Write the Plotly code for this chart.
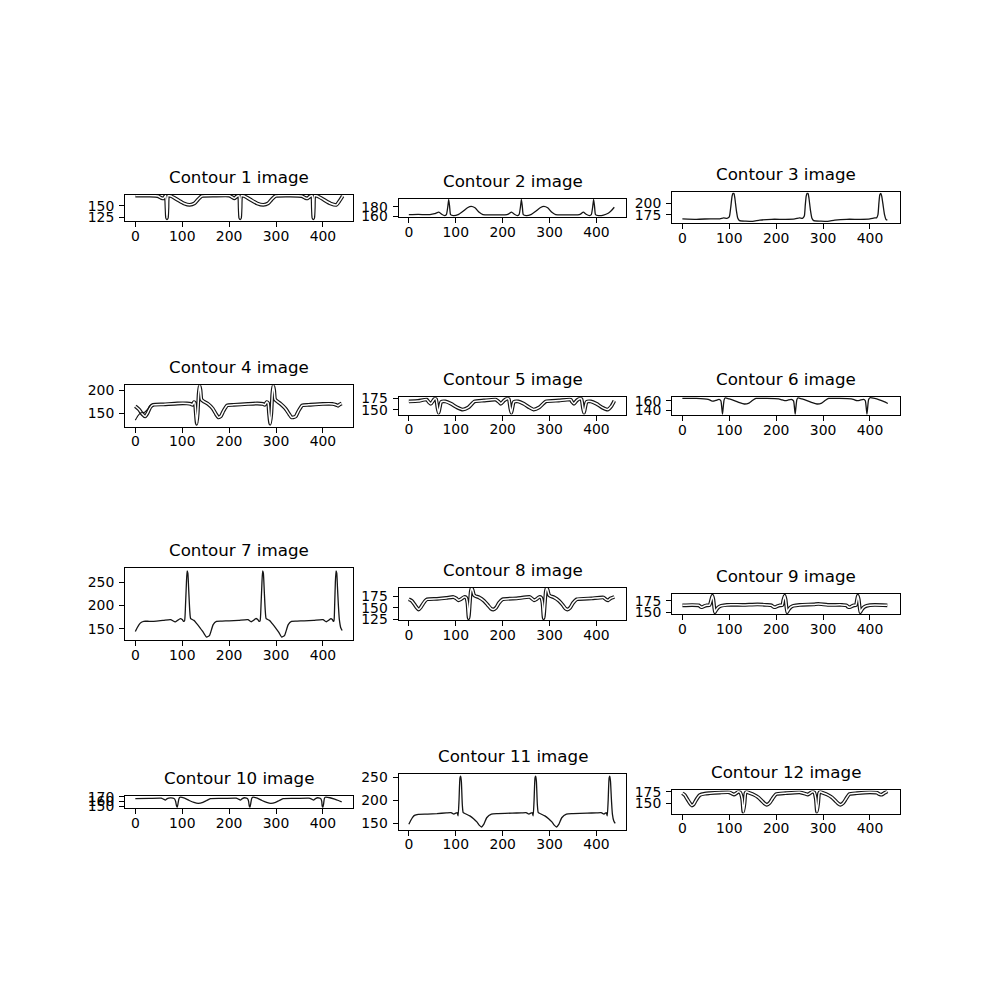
import plotly.graph_objects as go

# ---------------- data ----------------
titles = ["Contour 1 image", "Contour 2 image", "Contour 3 image",
          "Contour 4 image", "Contour 5 image", "Contour 6 image",
          "Contour 7 image", "Contour 8 image", "Contour 9 image",
          "Contour 10 image", "Contour 11 image", "Contour 12 image"]

p1_x = [0, 30, 48, 55, 60, 63, 65, 66.5, 67.5, 68.5, 70, 76, 90, 104, 116, 126, 134, 142, 170,
        200, 206, 211, 216, 221, 222.5, 223.5, 224.5, 226, 232, 246, 260, 273, 283, 291, 299, 330,
        355, 362, 367, 372, 377, 378.5, 379.5, 380.5, 382, 388, 402, 416, 429, 435, 442]
p1_y = [172, 172, 171, 167, 166, 170, 172, 145, 123, 145, 172, 171, 163, 155, 152, 155, 164, 171, 172,
        172, 169, 166, 170, 172, 145, 123, 145, 172, 171, 163, 155, 152, 155, 164, 171, 172,
        171, 167, 166, 170, 172, 145, 123, 145, 172, 171, 163, 155, 152, 160, 171]

p2_x = [0, 20, 45, 55, 64, 70, 76, 80, 83, 85, 87, 89, 95, 105, 115, 125, 133, 141, 150, 158, 180,
        205, 212, 219, 225, 231, 235, 238, 240, 242, 244, 250, 260, 270, 280, 288, 296, 305, 313, 335,
        360, 366, 372, 378, 385, 389, 392, 394, 396, 398, 404, 415, 425, 432, 438]
p2_y = [163, 163.5, 163, 165, 168.5, 164, 161, 163, 180, 196, 180, 163, 161, 163, 170, 178, 181, 178, 168, 163, 162.5,
        162.5, 164, 168.5, 164, 161, 163, 180, 196, 180, 163, 161, 163, 170, 178, 181, 178, 168, 163, 162.5,
        162.5, 164, 168.5, 164, 161, 163, 180, 196, 180, 163, 161, 162, 166, 172, 179]

p3_x = [0, 30, 60, 80, 88, 95, 100, 103, 106, 108, 110, 112, 115, 118, 122, 135, 150, 165, 190,
        220, 240, 250, 256, 260, 262, 264, 266, 268, 270, 273, 276, 280, 295, 310, 325, 350,
        380, 400, 410, 414, 417, 419, 421, 423, 425, 428, 431, 434, 437]
p3_y = [166, 165, 166, 166, 168, 167, 170, 190, 215, 221, 221, 210, 185, 168, 162, 161, 160.5, 163, 165,
        165, 166, 168, 167, 172, 195, 215, 221, 221, 210, 185, 168, 162, 161, 160.5, 163, 165,
        165, 166, 168, 168, 175, 200, 218, 221, 215, 195, 175, 165, 163]

p4_x = [0, 8, 15, 21, 26, 32, 38, 60, 90, 110, 118, 122, 125, 127, 129, 131, 133, 135, 137, 139, 141,
        145, 155, 165, 172, 177, 182, 188, 196, 210, 240, 260, 272, 276, 280, 283, 285, 287.5, 290,
        292, 294, 296, 298, 302, 310, 320, 328, 333, 337, 342, 348, 356, 370, 400, 420, 428, 432, 436, 440]
p4_y = [165, 158, 148, 143, 150, 163, 168, 169, 171, 171, 170, 168, 174, 172, 150, 127, 150, 190, 210, 200, 180,
        176, 170, 160, 148, 141, 143, 155, 167, 168, 170, 171, 170, 168, 174, 172, 150, 127, 150,
        190, 210, 200, 180, 176, 170, 160, 148, 141, 141, 143, 155, 167, 168, 170, 170, 168, 166, 169, 171]
p4_branch_x = [0, 6, 12, 20, 26, 32]
p4_branch_y = [135, 145, 151, 152, 158, 167]

p5_x = [0, 20, 38, 43, 47, 52, 55, 58, 61, 63.5, 66, 69, 78, 90, 103, 115, 127, 140, 160,
        185, 192, 196, 203, 209, 213, 216, 218.5, 221, 224, 233, 245, 257, 266, 278, 292, 320,
        345, 348, 352, 358, 364, 368, 371, 373.5, 376, 379, 388, 400, 412, 424, 432, 438]
p5_y = [168, 169, 172, 166, 163, 170, 174, 173, 155, 143, 155, 167, 168, 163, 155, 150.5, 155, 168, 170,
        172, 167, 163, 170, 174, 173, 155, 143, 155, 167, 168, 163, 155, 150.5, 155, 168, 170,
        172, 167, 163, 170, 174, 173, 155, 143, 155, 167, 168, 163, 155, 150.5, 158, 169]

p6_x = [0, 30, 55, 62, 67, 72, 78, 82, 84, 85.5, 87, 89, 91, 100, 112, 122, 132, 142, 150, 157, 180,
        205, 212, 218, 224, 232, 237, 239, 240.5, 242, 244, 246, 255, 267, 277, 287, 297, 305, 312, 335,
        360, 367, 372, 378, 386, 390, 392, 393.5, 395, 397, 400, 410, 420, 430, 438]
p6_y = [165, 165, 163, 160, 159.5, 161, 163, 160, 145, 131, 145, 162, 166, 164, 160, 156, 153, 155, 161, 165, 165,
        164, 162, 160.5, 161, 163, 160, 145, 131, 145, 162, 166, 164, 160, 156, 153, 155, 161, 165, 165,
        164, 162, 160.5, 161, 163, 160, 145, 131, 145, 162, 166.5, 165, 162, 158, 154]

p7_x = [0, 4, 8, 13, 18, 30, 45, 60, 75, 85, 90, 96, 100, 103, 105, 107, 109, 110.5, 112, 114, 116, 118,
        125, 131, 138, 145, 152, 158, 163, 166, 173, 185, 200, 220, 240, 247, 252, 257, 261, 264, 266,
        268, 270, 271.5, 273, 275, 277, 279, 286, 292, 299, 306, 312, 318, 323, 326, 333, 345, 360, 380,
        400, 407, 412, 417, 420, 422, 423.5, 425, 426.5, 428, 429.5, 431, 433, 435, 438, 441]
p7_y = [144, 152, 159, 164, 166, 166, 166.5, 168, 169.5, 164.7, 168, 172, 170, 166, 167, 200, 250, 275, 270, 230, 190, 172,
        168, 161, 152, 142, 132, 135, 150, 159, 166, 166.5, 167, 168, 169.5, 165, 168, 172, 170, 166, 167,
        200, 250, 275, 270, 230, 190, 172, 168, 161, 152, 142, 132, 135, 150, 159, 166, 166.5, 167, 168,
        169.5, 165, 168, 172, 170, 166, 167, 200, 250, 275, 270, 240, 200, 170, 152, 146]

p8_x = [0, 6, 12, 17, 21, 25, 30, 35, 39, 60, 80, 95, 101, 106, 112, 118, 122, 125, 127.5, 130, 132,
        134, 136, 139, 142, 150, 160, 168, 175, 180, 186, 192, 200, 230, 258, 262, 267, 273, 278, 282,
        285, 287.5, 290, 292, 294, 296, 299, 302, 310, 320, 328, 334, 338, 344, 350, 358, 390, 415, 420,
        425, 430, 438]
p8_y = [168, 165, 157, 150, 146, 150, 158, 165, 168, 169, 171, 173, 170, 166, 169, 173, 172, 160, 127, 160, 185,
        193, 188, 177, 175, 172, 165, 156, 148, 146, 150, 160, 168, 170, 173, 170, 166, 169, 173, 172,
        160, 127, 160, 185, 193, 188, 177, 175, 172, 165, 156, 148, 146, 150, 160, 168, 170, 172, 168,
        166, 170, 173]

p9_x = [0, 20, 35, 39, 42, 46, 52, 58, 61, 64, 66, 68, 69.5, 72, 77, 83, 95, 130, 160,
        180, 190, 194, 198, 202, 208, 213, 215, 218, 220, 222, 223.5, 226, 231, 237, 250, 280, 290, 310,
        340, 350, 353, 357, 361, 366, 370, 372, 374, 376, 378, 379.5, 382, 387, 393, 410, 437]
p9_y = [165, 165.5, 165, 162, 161, 163, 165, 165.5, 175, 186, 178, 160, 150, 155, 161, 164, 166, 166, 167,
        166, 165, 162, 161, 163, 165, 165.5, 175, 186, 178, 160, 150, 155, 161, 164, 166, 167, 168, 166,
        166, 165, 162, 161, 163, 165, 165.5, 175, 186, 178, 160, 150, 155, 161, 164, 166, 165]

p10_x = [0, 30, 55, 60, 64, 68, 75, 80, 84, 86, 88, 89.5, 91, 93, 95, 105, 115, 125, 134, 144, 152, 160,
         190, 215, 220, 224, 228, 233, 237, 240, 241.5, 243, 244.5, 246, 248, 250, 260, 270, 280, 289, 299,
         307, 315, 345, 370, 376, 380, 384, 389, 393, 396, 397.5, 398.5, 400, 401.5, 403, 405, 415, 425,
         433, 440]
p10_y = [166, 166.5, 167, 165, 163, 166, 167.5, 167, 165, 160, 150, 147.5, 155, 166, 169, 167, 162, 158, 156, 158, 162, 166,
         166.5, 167, 165, 163, 166, 168, 167, 165, 160, 150, 147.5, 155, 166, 169, 167, 162, 158, 156, 158,
         162, 166, 166.5, 167, 165, 163, 166, 168, 167, 165, 160, 150, 147.5, 155, 166, 169, 168, 165,
         162, 159]

p11_x = [0, 4, 8, 12, 20, 40, 60, 80, 90, 96, 100, 103, 105, 107, 109, 110.5, 112, 114, 116, 122,
         130, 138, 145, 150, 155, 160, 166, 176, 190, 220, 240, 250, 256, 260, 263, 265, 267, 269,
         270.5, 272, 274, 276, 282, 290, 298, 305, 310, 315, 320, 326, 336, 350, 380, 400, 410, 416,
         419, 421, 423, 425, 427, 428.5, 430, 432, 434, 437, 440]
p11_y = [148, 156, 163, 167, 169.5, 170, 171, 172.5, 173, 170, 172, 173, 166, 200, 248, 252, 240, 190, 173, 170,
         166, 160, 153, 146, 142, 148, 162, 170, 171, 172, 172.5, 173, 170, 172, 173, 166, 200, 248,
         252, 240, 190, 173, 170, 166, 160, 153, 146, 142, 148, 162, 170, 171, 172, 172.5, 173, 170,
         172, 173, 166, 200, 248, 252, 240, 200, 170, 155, 150]

p12_x = [0, 5, 10, 15, 20, 24, 28, 33, 37, 48, 58, 80, 100, 106, 110, 115, 119, 123, 127.5, 130, 132.5,
         134.5, 137, 142, 152, 162, 170, 175, 180, 186, 192, 200, 220, 250, 262, 267, 272, 277, 281,
         284.5, 287, 289.5, 291.5, 294, 299, 309, 319, 327, 332, 337, 343, 349, 356, 372, 400, 415, 420,
         425, 430, 437]
p12_y = [172, 168, 160, 152, 145.5, 148, 155, 163, 168, 171, 172, 173.5, 174, 171, 169, 172, 175, 174, 160, 131.5, 150,
         172, 175, 173, 169, 163, 155, 150, 147, 151, 160, 170, 172, 174, 171, 169, 172, 175, 174,
         160, 131.5, 150, 172, 175, 173, 169, 163, 155, 150, 147, 151, 160, 170, 172, 174, 173, 170,
         169, 172, 176]

series_x = [p1_x, p2_x, p3_x, p4_x, p5_x, p6_x, p7_x, p8_x, p9_x, p10_x, p11_x, p12_x]
series_y = [p1_y, p2_y, p3_y, p4_y, p5_y, p6_y, p7_y, p8_y, p9_y, p10_y, p11_y, p12_y]

# axis limits and tick steps per panel
x_range = [-22, 464]
y_ranges = [[117, 174], [158, 197.5], [156.5, 223],
            [121, 210.5], [139.7, 177], [129.2, 168.6],
            [125, 282], [123, 193], [146, 190],
            [146, 171.5], [136, 256], [128, 178]]
y_dticks = [25, 20, 25, 50, 25, 20, 50, 25, 25, 10, 50, 25]
x_dtick = 100

# ---------------- styling ----------------
double_outline = [True, False, False, True, True, False, False, True, True, False, False, True]
FONT = "DejaVu Sans"
W = H = 1000
LEFT, RIGHT, TOP, BOTTOM = 125, 900, 120, 890
NCOL, NROW, WSP, HSP = 3, 4, 0.2, 0.2
cw = (RIGHT - LEFT) / (NCOL + (NCOL - 1) * WSP)
rh = (BOTTOM - TOP) / (NROW + (NROW - 1) * HSP)
LINE_SHAPE = dict(shape="spline", smoothing=0.5)

fig = go.Figure()
layout = dict(width=W, height=H, margin=dict(l=0, r=0, t=0, b=0),
              paper_bgcolor="white", plot_bgcolor="white", showlegend=False,
              font=dict(family=FONT, color="black"))
annotations = []

for i in range(12):
    n = i + 1
    r, c = divmod(i, NCOL)
    x0 = LEFT + c * cw * (1 + WSP)
    x1 = x0 + cw
    cy = TOP + r * rh * (1 + HSP) + rh / 2
    yr = y_ranges[i]
    h = (yr[1] - yr[0]) * cw / (x_range[1] - x_range[0])  # equal aspect
    top_px, bot_px = cy - h / 2, cy + h / 2

    xa = "x" if n == 1 else f"x{n}"
    ya = "y" if n == 1 else f"y{n}"
    xk = "xaxis" if n == 1 else f"xaxis{n}"
    yk = "yaxis" if n == 1 else f"yaxis{n}"

    if double_outline[i]:
        fig.add_trace(go.Scatter(x=series_x[i], y=series_y[i], mode="lines",
                                 line=dict(color="#151515", width=3.8, **LINE_SHAPE),
                                 xaxis=xa, yaxis=ya, hoverinfo="skip"))
        fig.add_trace(go.Scatter(x=series_x[i], y=series_y[i], mode="lines",
                                 line=dict(color="white", width=1.5, **LINE_SHAPE),
                                 xaxis=xa, yaxis=ya, hoverinfo="skip"))
    else:
        fig.add_trace(go.Scatter(x=series_x[i], y=series_y[i], mode="lines",
                                 line=dict(color="#151515", width=1.3, **LINE_SHAPE),
                                 xaxis=xa, yaxis=ya, hoverinfo="skip"))
    if n == 4:
        fig.add_trace(go.Scatter(x=p4_branch_x, y=p4_branch_y, mode="lines",
                                 line=dict(color="#151515", width=1.2, **LINE_SHAPE),
                                 xaxis=xa, yaxis=ya, hoverinfo="skip"))

    common = dict(showline=True, mirror=True, linecolor="black", linewidth=1,
                  ticks="outside", ticklen=5, tickwidth=1, tickcolor="black",
                  showgrid=False, zeroline=False, tickmode="linear", tick0=0,
                  tickfont=dict(family=FONT, size=13.9, color="black"), fixedrange=True)
    layout[xk] = dict(domain=[x0 / W, x1 / W], range=x_range, anchor=ya,
                      dtick=x_dtick, ticklabelstandoff=-3, **common)
    layout[yk] = dict(domain=[1 - bot_px / H, 1 - top_px / H], range=yr, anchor=xa,
                      dtick=y_dticks[i], ticklabelstandoff=2, **common)

    annotations.append(dict(text=titles[i], x=(x0 + x1) / 2 / W, y=1 - top_px / H,
                            xref="paper", yref="paper", xanchor="center", yanchor="bottom",
                            yshift=6, showarrow=False,
                            font=dict(family=FONT, size=16.7, color="black")))

layout["annotations"] = annotations
fig.update_layout(**layout)
fig.write_html("out.html")
